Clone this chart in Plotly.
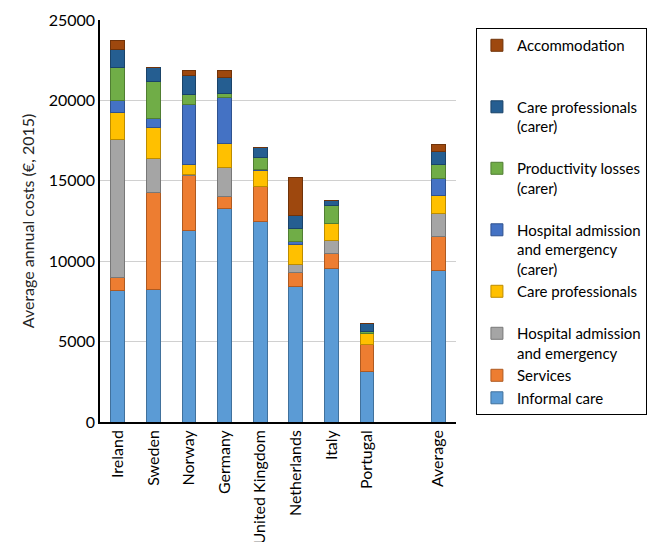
import plotly.graph_objects as go

countries = ["Ireland", "Sweden", "Norway", "Germany", "United Kingdom",
             "Netherlands", "Italy", "Portugal", " ", "Average"]
bar_countries = ["Ireland", "Sweden", "Norway", "Germany", "United Kingdom",
                 "Netherlands", "Italy", "Portugal", "Average"]

informal_care = [8170, 8250, 11940, 13250, 12500, 8400, 9540, 3150, 9450]
services = [810, 6010, 3360, 800, 2130, 910, 970, 1640, 2070]
hospital = [8560, 2120, 120, 1790, 0, 470, 790, 60, 1420]
care_prof = [1700, 1920, 580, 1470, 980, 1270, 1060, 670, 1160]
hospital_carer = [740, 560, 3760, 2840, 100, 190, 0, 0, 1030]
productivity_carer = [2080, 2300, 580, 310, 770, 810, 1120, 90, 910]
care_prof_carer = [1120, 900, 1200, 980, 580, 820, 280, 530, 810]
accommodation = [530, 0, 350, 390, 0, 2350, 0, 0, 420]

series = [
    ("Informal care", informal_care, "#5B9BD5", "#41719C"),
    ("Services", services, "#ED7D31", "#AE5A21"),
    ("Hospital admission<br>and emergency", hospital, "#A5A5A5", "#787878"),
    ("Care professionals<br> ", care_prof, "#FFC000", "#BC8C00"),
    ("Hospital admission<br>and emergency<br>(carer)", hospital_carer, "#4472C4", "#2F528F"),
    ("Productivity losses<br>(carer)<br> ", productivity_carer, "#70AD47", "#507E32"),
    ("Care professionals<br>(carer)<br> ", care_prof_carer, "#255E91", "#1A4369"),
    ("Accommodation<br> <br> ", accommodation, "#9E480E", "#70330A"),
]

FONT = "Lato"
fig = go.Figure()
for name, vals, col, edge in series:
    fig.add_trace(go.Bar(
        x=bar_countries, y=vals, name=name,
        marker=dict(color=col, line=dict(color=edge, width=1)),
    ))

fig.update_layout(
    barmode="stack",
    bargap=0.61,
    width=659, height=542,
    margin=dict(l=100, r=189, t=20, b=120),
    plot_bgcolor="white",
    paper_bgcolor="white",
    font=dict(family=FONT, size=16, color="#262626"),
    showlegend=True,
    legend=dict(
        traceorder="reversed",
        valign="top",
        x=1.056, xanchor="left",
        y=0.98, yanchor="top",
        bordercolor="#000000", borderwidth=1,
        bgcolor="white",
        font=dict(family=FONT, size=15, color="#000000"),
    ),
    xaxis=dict(
        categoryorder="array", categoryarray=countries,
        range=[-0.5, 9.5],
        tickangle=-90,
        automargin=False,
        showline=True, linecolor="#000000", linewidth=1.5,
        showgrid=False, ticks="",
        tickfont=dict(family=FONT, size=16, color="#000000"),
    ),
    yaxis=dict(
        range=[0, 25000], dtick=5000,
        automargin=False,
        showline=True, linecolor="#000000", linewidth=1.5,
        showgrid=True, gridcolor="#D0D0D0", gridwidth=1,
        zeroline=False, ticks="",
        tickformat="d",
        tickfont=dict(family=FONT, size=16, color="#000000"),
        title=dict(text="Average annual costs (€, 2015)",
                   font=dict(family=FONT, size=16, color="#262626"),
                   standoff=10),
    ),
)

fig.write_html("out.html")
